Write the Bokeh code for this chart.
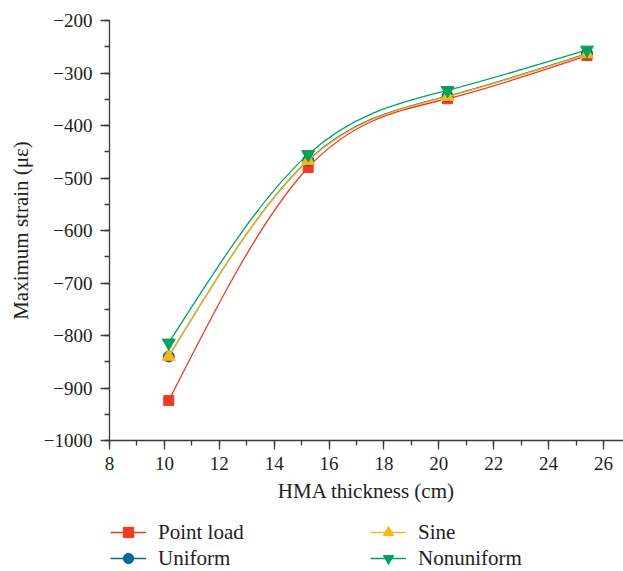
import numpy as np
from bokeh.plotting import figure
from bokeh.layouts import column
from bokeh.models import Range1d, Legend, LegendItem, ColumnDataSource, FixedTicker
from bokeh.embed import file_html
from bokeh.resources import INLINE

# HMA layer thickness (cm) and maximum strain (microstrain) for each load model
thickness = [10.16, 15.24, 20.32, 25.4]
point_load = [-924, -480, -349, -267]
uniform = [-840, -466, -344, -263]
sine = [-840, -467, -345, -264]
nonuniform = [-814, -455, -333, -256]

series = [
    ("Point load", point_load, "#EE3A24", "square", 10),
    ("Uniform", uniform, "#0B67A0", "circle", 11),
    ("Sine", sine, "#FDB614", "triangle", 13),
    ("Nonuniform", nonuniform, "#04A15B", "inverted_triangle", 13),
]

FONT = "Liberation Serif"
AXIS_COLOR = "#3a3a3a"
TEXT_COLOR = "#222222"


def spline_beziers(x, y):
    """Natural cubic spline through the nodes, expressed as cubic Bezier pieces."""
    x = np.asarray(x, float)
    y = np.asarray(y, float)
    n = len(x)
    h = np.diff(x)
    A = np.zeros((n, n))
    b = np.zeros(n)
    A[0, 0] = A[-1, -1] = 1.0
    for i in range(1, n - 1):
        A[i, i - 1] = h[i - 1]
        A[i, i] = 2 * (h[i - 1] + h[i])
        A[i, i + 1] = h[i]
        b[i] = 6 * ((y[i + 1] - y[i]) / h[i] - (y[i] - y[i - 1]) / h[i - 1])
    M = np.linalg.solve(A, b)
    x0, y0, x1, y1, cx0, cy0, cx1, cy1 = ([] for _ in range(8))
    for i in range(n - 1):
        s = (y[i + 1] - y[i]) / h[i]
        d0 = s - h[i] * (2 * M[i] + M[i + 1]) / 6
        d1 = s + h[i] * (M[i] + 2 * M[i + 1]) / 6
        x0.append(x[i]); y0.append(y[i]); x1.append(x[i + 1]); y1.append(y[i + 1])
        cx0.append(x[i] + h[i] / 3); cy0.append(y[i] + h[i] / 3 * d0)
        cx1.append(x[i + 1] - h[i] / 3); cy1.append(y[i + 1] - h[i] / 3 * d1)
    return dict(x0=x0, y0=y0, x1=x1, y1=y1, cx0=cx0, cy0=cy0, cx1=cx1, cy1=cy1)


p = figure(width=623, height=505, output_backend="svg", toolbar_location=None,
           x_range=Range1d(8, 26.73), y_range=Range1d(-1000, -200),
           min_border_left=109, min_border_right=0, min_border_top=20, min_border_bottom=65)
p.outline_line_color = None
p.xgrid.visible = False
p.ygrid.visible = False

for name, vals, color, marker, size in series:
    src = ColumnDataSource(spline_beziers(thickness, vals))
    p.bezier(x0="x0", y0="y0", x1="x1", y1="y1", cx0="cx0", cy0="cy0", cx1="cx1", cy1="cy1",
             source=src, line_color=color, line_width=1.3)
    p.scatter(thickness, vals, marker=marker, size=size, fill_color=color, line_color=color)

for ax in (p.xaxis[0], p.yaxis[0]):
    ax.axis_line_color = AXIS_COLOR
    ax.axis_line_width = 1.3
    ax.major_tick_line_color = AXIS_COLOR
    ax.minor_tick_line_color = AXIS_COLOR
    ax.major_tick_line_width = 1.3
    ax.minor_tick_line_width = 1.3
    ax.major_tick_out = 9
    ax.major_tick_in = 0
    ax.minor_tick_out = 5
    ax.minor_tick_in = 0
    ax.major_label_text_font = FONT
    ax.major_label_text_font_size = "19px"
    ax.major_label_text_color = TEXT_COLOR
    ax.axis_label_text_font = FONT
    ax.axis_label_text_font_size = "21px"
    ax.axis_label_text_font_style = "normal"
    ax.axis_label_text_color = TEXT_COLOR

p.xaxis.ticker = FixedTicker(ticks=list(range(8, 27, 2)), minor_ticks=list(range(8, 27)))
p.yaxis.ticker = FixedTicker(ticks=list(range(-1000, -199, 100)),
                             minor_ticks=list(range(-1000, -199, 50)))
p.yaxis.major_label_overrides = {v: "\u2212" + str(-v) for v in range(-1000, -199, 100)}
p.xaxis.axis_label = "HMA thickness (cm)"
p.yaxis.axis_label = "Maximum strain (\u03bc\u03b5)"
p.xaxis.major_label_standoff = 7
p.yaxis.major_label_standoff = 8
p.xaxis.axis_label_standoff = 6
p.yaxis.axis_label_standoff = 8

# key strip underneath: two single-column legends side by side
k = figure(width=623, height=66, output_backend="svg", toolbar_location=None,
           x_range=Range1d(0, 1), y_range=Range1d(0, 1),
           min_border=0, outline_line_color=None)
k.axis.visible = False
k.grid.visible = False
items = []
for name, vals, color, marker, size in series:
    ln = k.line(x=[np.nan], y=[np.nan], line_color=color, line_width=1.3)
    mk = k.scatter(x=[np.nan], y=[np.nan], marker=marker, fill_color=color, line_color=color)
    items.append(LegendItem(label=name, renderers=[ln, mk]))

for group, xloc in ((items[:2], 1), (items[2:], 261)):
    k.add_layout(Legend(items=group, location=(xloc, 0), orientation="vertical",
                        label_text_font=FONT, label_text_font_size="21px",
                        label_text_color=TEXT_COLOR, glyph_width=36, glyph_height=26,
                        label_height=22, label_standoff=12, spacing=0,
                        border_line_color=None, background_fill_alpha=0,
                        padding=0, margin=0))

open("out.html", "w").write(file_html(column(p, k, spacing=0), INLINE))
